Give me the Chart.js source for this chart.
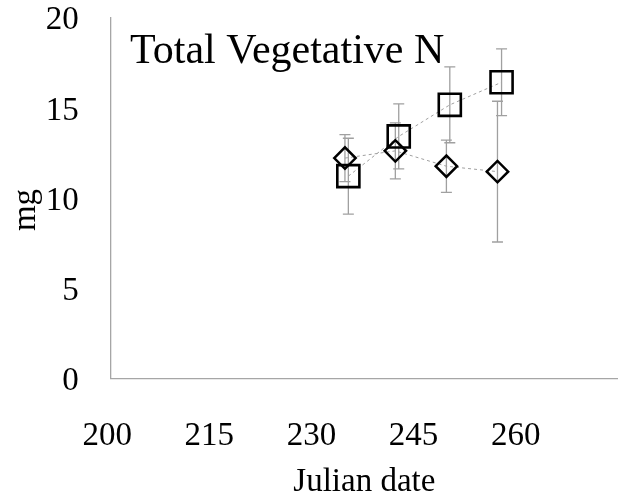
<!DOCTYPE html>
<html>
<head>
<meta charset="utf-8">
<script src="https://cdn.jsdelivr.net/npm/chart.js@4.4.1/dist/chart.umd.min.js"></script>
<style>
  html, body { margin: 0; padding: 0; background: #fff; }
  #wrap { width: 618px; height: 500px; }
</style>
</head>
<body>
<div id="wrap"><canvas id="myChart"></canvas></div>
<script>
const xTicks = [200, 215, 230, 245, 260];
const yTicks = [0, 5, 10, 15, 20];

// diamonds
const dateDiamond = [234.4, 241.8, 249.3, 256.8];
const valDiamond = [12.2, 12.6, 11.75, 11.45];
const errDiamond = [1.3, 1.55, 1.45, 3.9];

// squares
const dateSquare = [234.9, 242.3, 249.8, 257.4];
const valSquare = [11.2, 13.4, 15.15, 16.4];
const errSquare = [2.1, 1.8, 2.1, 1.85];

const chartTitle = 'Total Vegetative N';
const yTitle = 'mg';

const serif = 'Liberation Serif';

// vertical error bars with caps, drawn under the markers
const errorBars = {
  id: 'errorBars',
  beforeDatasetsDraw(chart) {
    const { ctx, scales: { x, y } } = chart;
    ctx.save();
    ctx.strokeStyle = '#a0a0a0';
    ctx.lineWidth = 1.3;
    chart.data.datasets.forEach(ds => {
      ds.data.forEach((pt, i) => {
        const err = ds.errors[i];
        const px = x.getPixelForValue(pt.x);
        const top = y.getPixelForValue(pt.y + err);
        const bot = y.getPixelForValue(pt.y - err);
        ctx.beginPath();
        ctx.moveTo(px, top); ctx.lineTo(px, bot);
        ctx.moveTo(px - 5.5, top); ctx.lineTo(px + 5.5, top);
        ctx.moveTo(px - 5.5, bot); ctx.lineTo(px + 5.5, bot);
        ctx.stroke();
      });
    });
    ctx.restore();
  }
};

// title inside the plot area (top left) and the y axis label, a bit below centre
const extraText = {
  id: 'extraText',
  afterDraw(chart) {
    const { ctx, chartArea } = chart;
    ctx.save();
    ctx.fillStyle = '#000';
    ctx.font = '42px "' + serif + '"';
    ctx.textBaseline = 'alphabetic';
    ctx.fillText(chartTitle, chartArea.left + 19.3, chartArea.top + 45.7);

    ctx.font = '33px "' + serif + '"';
    ctx.translate(26, 210);
    ctx.rotate(-Math.PI / 2);
    ctx.textAlign = 'center';
    ctx.textBaseline = 'middle';
    ctx.fillText(yTitle, 0, 0);
    ctx.restore();
  }
};

const ctx = document.getElementById('myChart');

new Chart(ctx, {
  type: 'scatter',
  data: {
    datasets: [{
      label: 'Series 1',
      data: dateDiamond.map((d, i) => ({ x: d, y: valDiamond[i] })),
      errors: errDiamond,
      showLine: true,
      pointStyle: 'rectRot',
      pointRadius: 10.7,
      pointBorderWidth: 2.5,
      pointBorderColor: '#000',
      pointBackgroundColor: 'rgba(0,0,0,0)',
      borderColor: '#a0a0a0',
      borderWidth: 1,
      borderDash: [3, 3],
    }, {
      label: 'Series 2',
      data: dateSquare.map((d, i) => ({ x: d, y: valSquare[i] })),
      errors: errSquare,
      showLine: true,
      pointStyle: 'rect',
      pointRadius: 15.6,
      pointBorderWidth: 2.6,
      pointBorderColor: '#000',
      pointBackgroundColor: 'rgba(0,0,0,0)',
      borderColor: '#a0a0a0',
      borderWidth: 1,
      borderDash: [3, 3],
    }],
  },
  options: {
    animation: false,
    responsive: true,
    maintainAspectRatio: false,
    events: [],
    layout: { autoPadding: false, padding: { top: 17.3, left: 0, right: 0, bottom: 0 } },
    scales: {
      x: {
        type: 'linear',
        min: 200,
        max: 274.5,
        afterBuildTicks: s => { s.ticks = xTicks.map(v => ({ value: v })); },
        afterFit: s => { s.height = 121.7; s.paddingLeft = 0; s.paddingRight = 0; },
        grid: { display: false },
        border: { display: true, color: '#a6a6a6', width: 1.3 },
        ticks: { padding: 30, labelOffset: -3.5, color: '#000', font: { family: serif, size: 33 } },
        title: {
          display: true,
          text: 'Julian date',
          color: '#000',
          font: { family: serif, size: 33, lineHeight: 1.0 },
          padding: { top: 0, bottom: 1.5 },
        },
      },
      y: {
        min: 0,
        max: 20,
        afterBuildTicks: s => { s.ticks = yTicks.map(v => ({ value: v })); },
        afterFit: s => { s.width = 110.7; s.paddingTop = 0; s.paddingBottom = 0; },
        grid: { display: false },
        border: { display: true, color: '#a6a6a6', width: 1.3 },
        ticks: { padding: 24, labelOffset: 3.5, color: '#000', font: { family: serif, size: 33 } },
      },
    },
    plugins: {
      legend: { display: false },
      tooltip: { enabled: false },
    },
  },
  plugins: [errorBars, extraText],
});
</script>
</body>
</html>
